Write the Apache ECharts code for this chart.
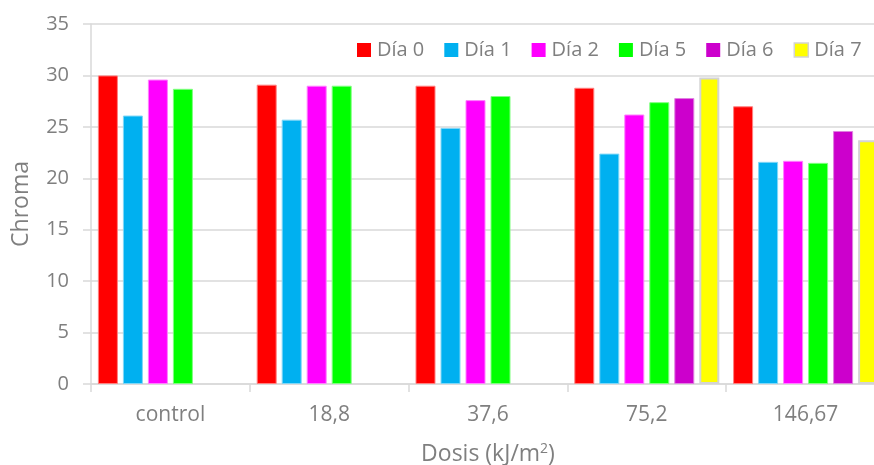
<!DOCTYPE html>
<html>
<head>
<meta charset="utf-8">
<script src="https://cdn.jsdelivr.net/npm/echarts@6/dist/echarts.min.js"></script>
<style>
  html, body { margin: 0; padding: 0; background: #fff; overflow: hidden; }
  #chart { width: 874px; height: 465px; }
</style>
</head>
<body>
<div id="chart"></div>
<script>
// Dose levels (kJ/m²)
const categories = ['control', '18,8', '37,6', '75,2', '146,67'];

// Chroma per sampling day ('-' = not measured)
const dia0 = [30.0, 29.1, 29.0, 28.8, 27.0];
const dia1 = [26.1, 25.7, 24.9, 22.4, 21.6];
const dia2 = [29.6, 29.0, 27.6, 26.2, 21.7];
const dia5 = [28.7, 29.0, 28.0, 27.4, 21.5];
const dia6 = ['-', '-', '-', 27.8, 24.6];
const dia7 = ['-', '-', '-', 29.8, 23.7];

const yTicks = [0, 5, 10, 15, 20, 25, 30, 35];

const seriesDefs = [
  { name: 'Día 0', data: dia0, color: '#FF0000', border: '#FF8080', bw: 1 },
  { name: 'Día 1', data: dia1, color: '#00B0F0', border: '#80D7F7', bw: 1 },
  { name: 'Día 2', data: dia2, color: '#FF00FF', border: '#FF80FF', bw: 1 },
  { name: 'Día 5', data: dia5, color: '#00FF00', border: '#80FF80', bw: 1 },
  { name: 'Día 6', data: dia6, color: '#CC00CC', border: '#E080E0', bw: 1 },
  { name: 'Día 7', data: dia7, color: '#FFFF00', border: '#D4D4D4', bw: 2 }
];

const font = '"Open Sans", Lato, sans-serif';
const textGray = '#7F7F7F';
const lineGray = '#D9D9D9';

const chart = echarts.init(document.getElementById('chart'));
chart.setOption({
  animation: false,
  textStyle: { fontFamily: font },
  // fixed plot rectangle; it runs slightly past the right edge of the canvas
  grid: { left: 91, width: 794, top: 24, bottom: 81, containLabel: false, outerBoundsMode: 'none' },
  legend: {
    left: 357, top: 40, padding: 0,
    itemWidth: 14, itemHeight: 14, itemGap: 20,
    icon: 'rect',
    textStyle: { fontSize: 20, color: textGray, fontFamily: font, padding: [0, 0, 0, 1] },
    data: seriesDefs.map(s => ({ name: s.name, itemStyle: { color: s.color, borderColor: s.bw > 1 ? s.border : s.color, borderWidth: s.bw > 1 ? 1.5 : 0 } }))
  },
  xAxis: {
    type: 'category',
    data: categories,
    boundaryGap: true,
    axisLine: { lineStyle: { color: lineGray, width: 1.5 } },
    axisTick: { show: true, length: 8, lineStyle: { color: lineGray, width: 1.5 } },
    axisLabel: { fontSize: 21, color: textGray, margin: 21, fontFamily: font },
    name: 'Dosis (kJ/m{sup|2})',
    nameLocation: 'middle',
    nameGap: 58,
    nameTextStyle: {
      fontSize: 23, color: textGray, fontFamily: font,
      rich: { sup: { fontSize: 14, color: textGray, verticalAlign: 'top', padding: [0, 0, 10, 0], fontFamily: font } }
    }
  },
  yAxis: {
    type: 'value',
    min: 0, max: 35, interval: 5,
    axisLine: { show: true, lineStyle: { color: lineGray, width: 1.5 } },
    axisTick: { show: true, length: 8, lineStyle: { color: lineGray, width: 1.5 } },
    splitLine: { lineStyle: { color: lineGray, width: 1.5 } },
    axisLabel: {
      fontSize: 20, color: textGray, margin: 22, fontFamily: font,
      formatter: v => yTicks.includes(v) ? String(v) : ''
    },
    name: 'Chroma',
    nameLocation: 'middle',
    nameGap: 58,
    nameRotate: 90,
    nameTextStyle: { fontSize: 23, color: textGray, fontFamily: font }
  },
  series: seriesDefs.map(s => ({
    name: s.name,
    type: 'bar',
    data: s.data,
    barWidth: 20,
    barGap: '25%',
    itemStyle: { color: s.color, borderColor: s.border, borderWidth: s.bw }
  }))
});
</script>
</body>
</html>
